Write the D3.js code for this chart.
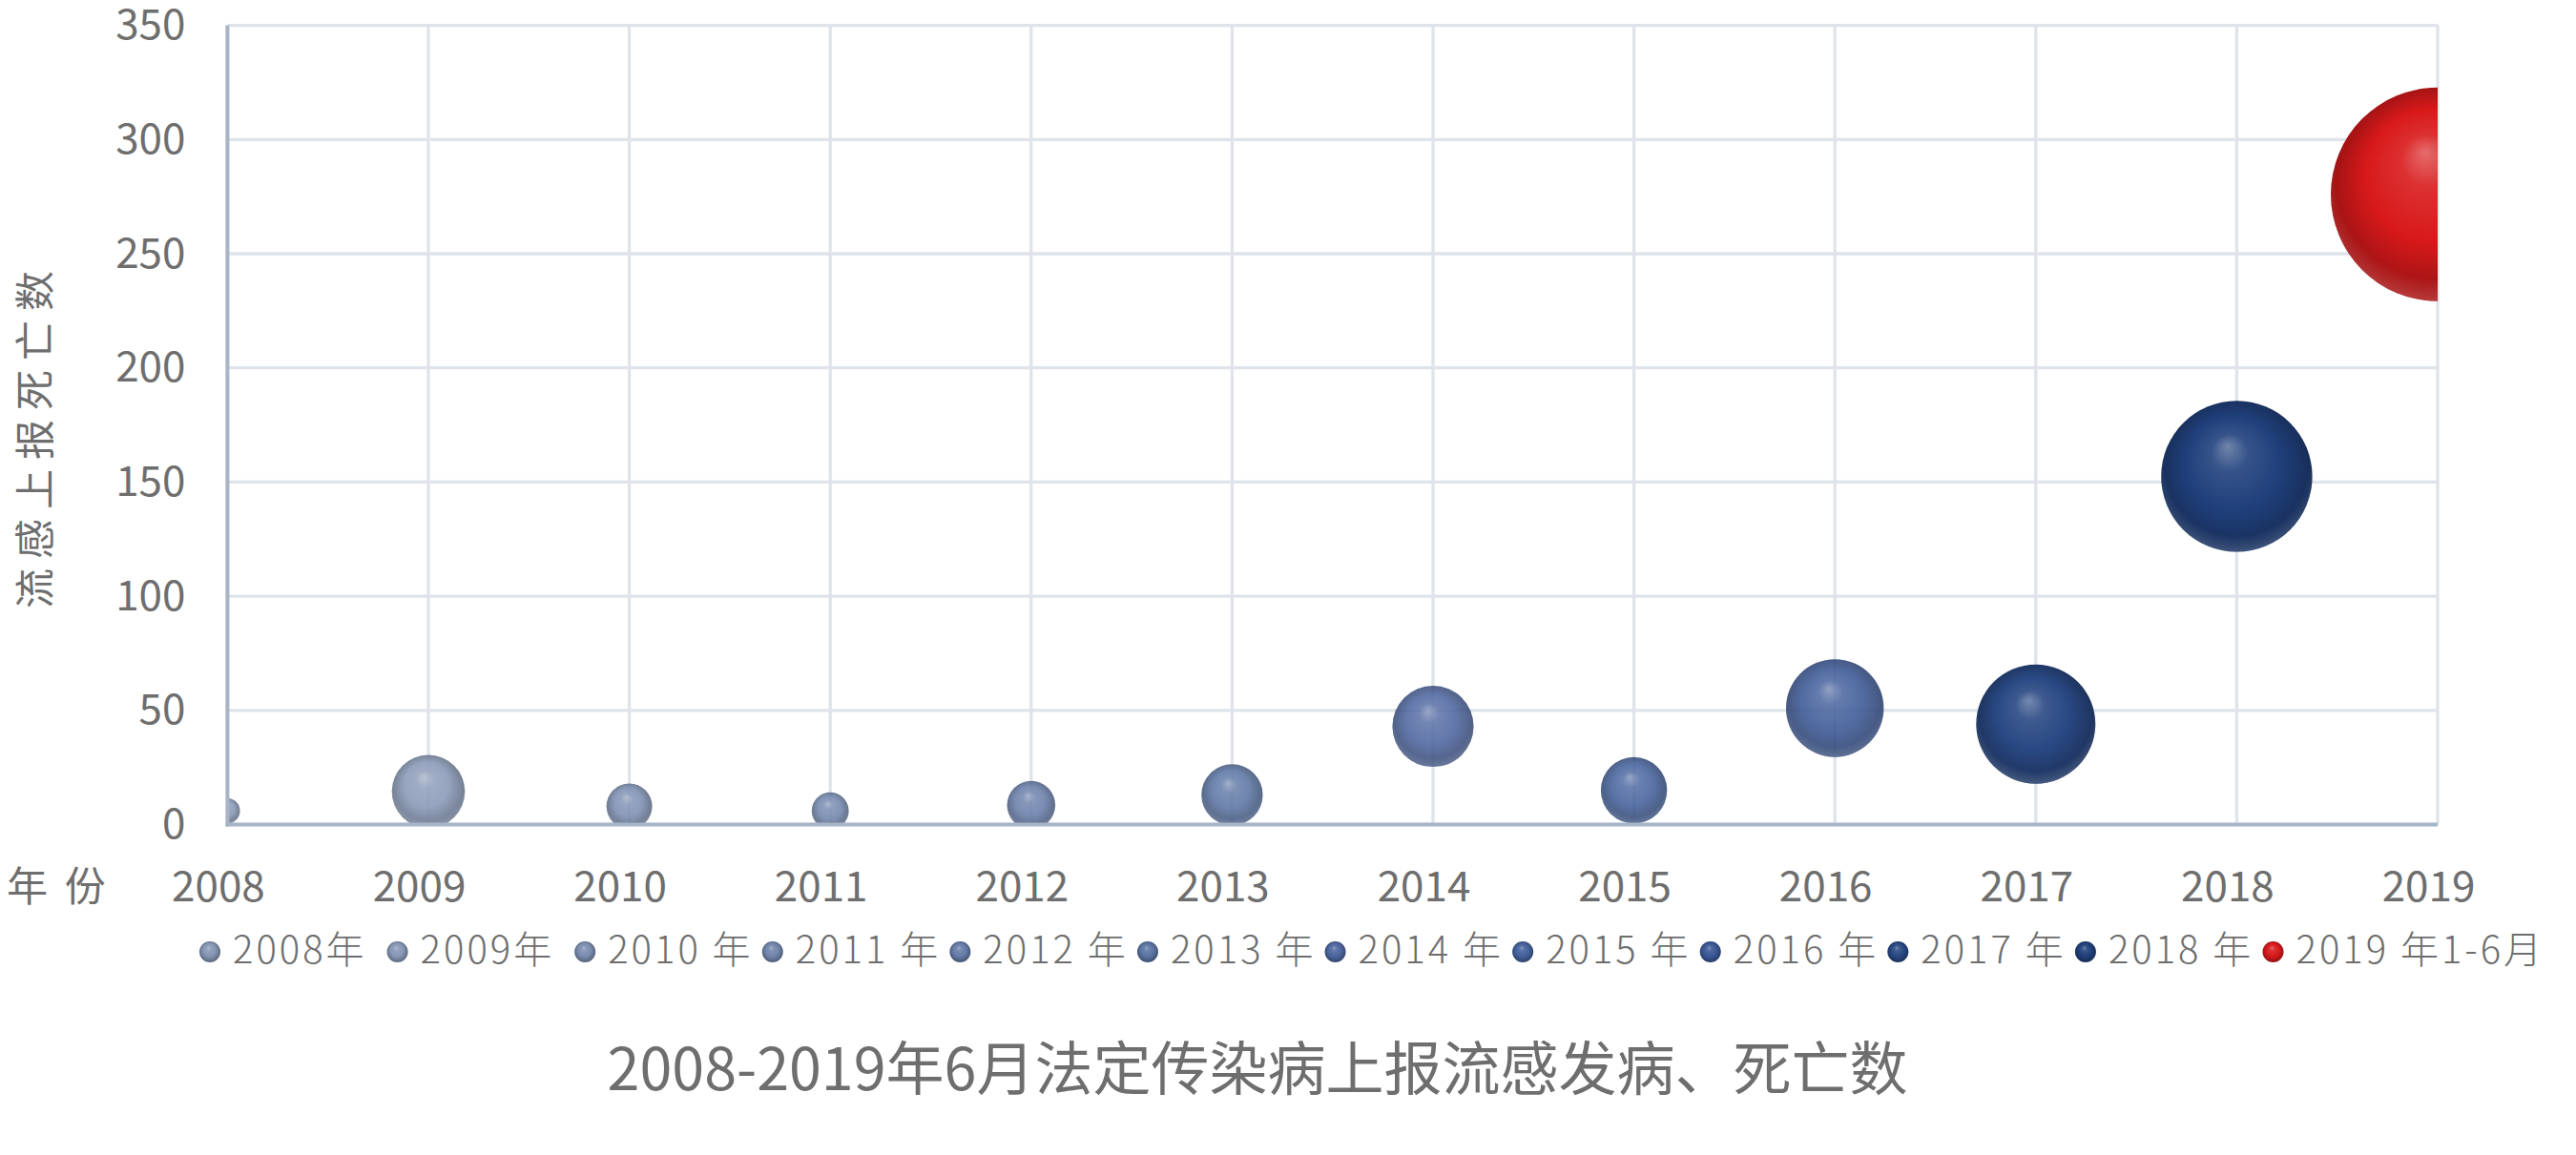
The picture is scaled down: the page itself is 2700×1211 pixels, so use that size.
<!DOCTYPE html>
<html>
<head>
<meta charset="utf-8">
<script src="https://cdn.jsdelivr.net/npm/d3@7"></script>
<style>
  html, body { margin: 0; padding: 0; background: #ffffff; }
  svg { display: block; }
  text { font-family: "Noto Sans CJK SC", "Noto Sans", sans-serif; fill: #6e6e6e; }
</style>
</head>
<body>
<svg id="chart" width="2700" height="1211"></svg>
<script>
// ---- data ----
const years = ["2008","2009","2010","2011","2012","2013","2014","2015","2016","2017","2018","2019"];
// 上报死亡数 (y value of each bubble)
const deaths = [6, 14.5, 8, 6, 8.5, 13, 43, 15, 51, 44, 152.5, 276];
// 上报发病数 (bubble size, 万例)
const cases = [2.1, 17.9, 7.0, 4.6, 7.8, 12.6, 22.1, 14.7, 32.0, 47.6, 76.5, 153.0];
const legendLabels = ["2008年","2009年","2010 年","2011 年","2012 年","2013 年","2014 年","2015 年","2016 年","2017 年","2018 年","2019 年1-6月"];
const yTicks = [0, 50, 100, 150, 200, 250, 300, 350];
const bubbleColors = ["#8595b3","#8797b6","#7b8db0","#7186ac","#667ca8","#5b74a3","#4d669f","#44619c","#3a5896","#294883","#20407c","#d8191a"];
const titleText = "2008-2019年6月法定传染病上报流感发病、死亡数";
const yTitle = "流感上报死亡数";
const xTitle = "年 份";

// ---- layout ----
const svg = d3.select("#chart");
const L = 238.4, R = 2555, T = 26.6, B = 864.5;

const x = d3.scalePoint().domain(years).range([L, R]);
const y = d3.scaleLinear().domain([0, 350]).range([B, T]);
const r = d3.scaleSqrt().domain([0, d3.max(cases)]).range([0, 112]);

const defs = svg.append("defs");
defs.append("clipPath").attr("id", "plotClip")
  .append("rect").attr("x", L).attr("y", T - 2).attr("width", R - L).attr("height", B - T + 2);

// sphere-like gradients
bubbleColors.forEach((c, i) => {
  const base = d3.color(c);
  const hi = d3.interpolateRgb(c, "#ffffff")(0.36);
  const mid = d3.interpolateRgb(c, "#ffffff")(0.1);
  const dk = base.darker(0.8).formatHex();
  const dk2 = base.darker(1.5).formatHex();
  const g = defs.append("radialGradient").attr("id", "g" + i)
    .attr("cx", "0.5").attr("cy", "0.5").attr("r", "0.56")
    .attr("fx", "0.44").attr("fy", "0.3");
  g.append("stop").attr("offset", "0").attr("stop-color", hi);
  g.append("stop").attr("offset", "0.22").attr("stop-color", mid);
  g.append("stop").attr("offset", "0.55").attr("stop-color", c);
  g.append("stop").attr("offset", "0.85").attr("stop-color", dk);
  g.append("stop").attr("offset", "1").attr("stop-color", dk2);
  // bottom rim reflection
  const g2 = defs.append("radialGradient").attr("id", "rim" + i)
    .attr("cx", "0.5").attr("cy", "0.42").attr("r", "0.58");
  g2.append("stop").attr("offset", "0.82").attr("stop-color", hi).attr("stop-opacity", 0);
  g2.append("stop").attr("offset", "1").attr("stop-color", hi).attr("stop-opacity", 0.45);
});

// ---- grid ----
const grid = svg.append("g");
grid.selectAll("line.h").data(yTicks).join("line")
  .attr("x1", L).attr("x2", R)
  .attr("y1", d => y(d)).attr("y2", d => y(d))
  .attr("stroke", "#dfe3ea").attr("stroke-width", 3.3);
grid.selectAll("line.v").data(years).join("line")
  .attr("x1", d => x(d)).attr("x2", d => x(d))
  .attr("y1", T).attr("y2", B)
  .attr("stroke", "#dfe3ea").attr("stroke-width", 3.3);

// ---- bubbles ----
const bubbles = svg.append("g").attr("clip-path", "url(#plotClip)");
const bd = years.map((yr, i) => ({ yr, i, v: deaths[i], s: cases[i] }));
bubbles.selectAll("circle.b").data(bd).join("circle")
  .attr("cx", d => x(d.yr)).attr("cy", d => y(d.v)).attr("r", d => r(d.s))
  .attr("fill", d => `url(#g${d.i})`)
  .attr("fill-opacity", d => d.i < 9 ? 0.88 : 1);
bubbles.selectAll("circle.rim").data(bd).join("circle")
  .attr("cx", d => x(d.yr)).attr("cy", d => y(d.v)).attr("r", d => r(d.s))
  .attr("fill", d => `url(#rim${d.i})`);

// ---- axis lines ----
svg.append("line").attr("x1", L).attr("x2", L).attr("y1", T).attr("y2", B + 2)
  .attr("stroke", "#a8b5c8").attr("stroke-width", 4);
svg.append("line").attr("x1", L - 2).attr("x2", R).attr("y1", B).attr("y2", B)
  .attr("stroke", "#a8b5c8").attr("stroke-width", 4);

// ---- axes labels ----
const yAxis = svg.append("g").attr("transform", `translate(${L},0)`)
  .call(d3.axisLeft(y).tickValues(yTicks).tickSize(0).tickPadding(44));
yAxis.select(".domain").remove();
yAxis.selectAll("text").attr("font-size", 44).attr("fill", "#6e6e6e")
  .style("font-family", "'Noto Sans CJK SC'");

const xAxis = svg.append("g").attr("transform", `translate(0,${B})`)
  .call(d3.axisBottom(x).tickSize(0).tickPadding(49));
xAxis.select(".domain").remove();
xAxis.selectAll("text").attr("font-size", 44).attr("dx", -10).attr("fill", "#6e6e6e")
  .style("font-family", "'Noto Sans CJK SC'");

svg.append("text").attr("x", 7).attr("y", 945).attr("font-size", 43)
  .attr("letter-spacing", 4).text(xTitle);

svg.append("text")
  .attr("transform", "translate(52,456) rotate(-90)")
  .attr("text-anchor", "middle").attr("font-size", 42).attr("letter-spacing", 10)
  .text(yTitle);

// ---- legend ----
const lx = d3.scalePoint().domain(years).range([220, 2382.5]);
const leg = svg.append("g");
const li = leg.selectAll("g").data(bd).join("g")
  .attr("transform", d => `translate(${lx(d.yr)},998)`);
li.append("circle").attr("r", 11).attr("fill", d => `url(#g${d.i})`);
li.append("text").attr("x", 24).attr("y", 12).attr("font-size", 40)
  .attr("font-weight", 300).attr("letter-spacing", 3).attr("fill", "#777777")
  .text((d) => legendLabels[d.i]);

// ---- title ----
svg.append("text").attr("x", 1318).attr("y", 1143).attr("text-anchor", "middle")
  .attr("font-size", 61).attr("fill", "#6e6e6e").text(titleText);
</script>
</body>
</html>
